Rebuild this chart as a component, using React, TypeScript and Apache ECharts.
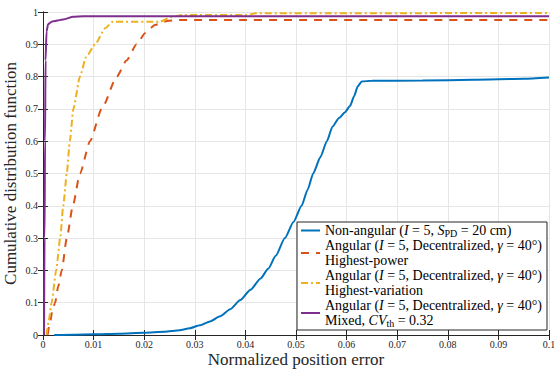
import React, { useEffect, useRef } from 'react';
import * as echarts from 'echarts';

// ---- data ----
const xTicks = [0, 0.01, 0.02, 0.03, 0.04, 0.05, 0.06, 0.07, 0.08, 0.09, 0.1];
const yTicks = [0, 0.1, 0.2, 0.3, 0.4, 0.5, 0.6, 0.7, 0.8, 0.9, 1];

const nonAngular: [number, number][] = [
  [0.0022, 0], [0.006, 0.001], [0.01, 0.002], [0.015, 0.004], [0.02, 0.007],
  [0.024, 0.01], [0.027, 0.015], [0.029, 0.021], [0.031, 0.03], [0.033, 0.042],
  [0.035, 0.058], [0.037, 0.08], [0.039, 0.108], [0.041, 0.14], [0.043, 0.175],
  [0.0445, 0.205], [0.046, 0.245], [0.0478, 0.3], [0.0495, 0.35], [0.0511, 0.4],
  [0.0523, 0.45], [0.0534, 0.5], [0.0548, 0.55], [0.0561, 0.6], [0.0572, 0.645],
  [0.0585, 0.672], [0.0597, 0.69], [0.0607, 0.71], [0.0615, 0.74], [0.0622, 0.77],
  [0.063, 0.785], [0.065, 0.787], [0.075, 0.788], [0.085, 0.79], [0.095, 0.793],
  [0.1, 0.797],
];

const highestPower: [number, number][] = [
  [0.0009, 0], [0.0014, 0.04], [0.0019, 0.08], [0.0024, 0.1], [0.003, 0.15],
  [0.0037, 0.2], [0.0047, 0.3], [0.0059, 0.4], [0.0073, 0.5], [0.0093, 0.6],
  [0.0116, 0.7], [0.0146, 0.8], [0.0165, 0.85], [0.0185, 0.9], [0.0202, 0.935],
  [0.0221, 0.96], [0.0245, 0.972], [0.0267, 0.975], [0.1, 0.975],
];

const highestVariation: [number, number][] = [
  [0.0007, 0], [0.0012, 0.05], [0.0017, 0.1], [0.0026, 0.2], [0.0034, 0.3],
  [0.004, 0.4], [0.0047, 0.5], [0.0053, 0.6], [0.006, 0.7], [0.0073, 0.8],
  [0.0085, 0.86], [0.0103, 0.9], [0.0123, 0.95], [0.0138, 0.97], [0.0231, 0.97],
  [0.0255, 0.985], [0.0277, 0.991], [0.0403, 0.991], [0.042, 0.996], [0.1, 0.997],
];

const mixed: [number, number][] = [
  [0.0002, 0], [0.0003, 0.3], [0.0004, 0.6], [0.0005, 0.85], [0.0007, 0.94],
  [0.001, 0.962], [0.0017, 0.97], [0.004, 0.977], [0.006, 0.985], [0.008, 0.987],
  [0.1, 0.987],
];

const seriesNames = ['Non-angular', 'Highest-power', 'Highest-variation', 'Mixed'];
const legendLabels: Record<string, string> = {
  'Non-angular': '{n|Non-angular (}{i|I}{n| = 5, }{i|S}{s|PD}{n| = 20 cm)}',
  'Highest-power': '{n|Angular (}{i|I}{n| = 5, Decentralized, }{i|γ}{n| = 40°)}\n{n|Highest-power}',
  'Highest-variation': '{n|Angular (}{i|I}{n| = 5, Decentralized, }{i|γ}{n| = 40°)}\n{n|Highest-variation}',
  'Mixed': '{n|Angular (}{i|I}{n| = 5, Decentralized, }{i|γ}{n| = 40°)}\n{n|Mixed, }{i|CV}{s|th}{n| = 0.32}',
};

const FONT = "'Liberation Serif', 'DejaVu Serif', serif";
const AXIS = '#262626';

export default function App() {
  const ref = useRef<HTMLDivElement>(null);
  useEffect(() => {
    if (!ref.current) return;
    const chart = echarts.init(ref.current, undefined, { renderer: 'svg' });
    const tickStyle = { fontFamily: FONT, fontSize: 10, color: AXIS };
    const mkLine = (name: string, data: [number, number][], color: string, type: any) => ({
      name,
      type: 'line',
      data,
      symbol: 'none',
      smooth: 0.2,
      smoothMonotone: 'x',
      clip: true,
      lineStyle: { color, width: 2, type },
      itemStyle: { color },
    });
    chart.setOption({
      animation: false,
      backgroundColor: '#fff',
      textStyle: { fontFamily: FONT },
      grid: { left: 43, right: 5, top: 12, bottom: 34, containLabel: false, outerBoundsMode: 'none' },
      xAxis: [
        {
          type: 'value', min: 0, max: 0.1, interval: 0.01, position: 'bottom',
          name: 'Normalized position error', nameLocation: 'middle', nameGap: 16,
          nameMoveOverlap: false,
          nameTextStyle: { fontFamily: FONT, fontSize: 17, color: AXIS },
          axisLine: { lineStyle: { color: AXIS, width: 1 } },
          axisTick: { inside: true, length: 5, lineStyle: { color: AXIS } },
          axisLabel: { ...tickStyle, margin: 4, formatter: (v: number) => String(xTicks.find((t) => Math.abs(t - v) < 1e-9) ?? v) },
          splitLine: { show: true, lineStyle: { color: '#e6e6e6', width: 1 } },
        },
        {
          type: 'value', min: 0, max: 0.1, interval: 0.01, position: 'top',
          axisLine: { show: true, lineStyle: { color: AXIS, width: 1 } },
          axisTick: { show: true, inside: true, length: 5, lineStyle: { color: AXIS } },
          axisLabel: { show: false }, splitLine: { show: false },
        },
      ],
      yAxis: [
        {
          type: 'value', min: 0, max: 1, interval: 0.1, position: 'left',
          name: 'Cumulative distribution function', nameLocation: 'middle', nameGap: 24,
          nameRotate: 90, nameMoveOverlap: false,
          nameTextStyle: { fontFamily: FONT, fontSize: 17, color: AXIS },
          axisLine: { show: true, lineStyle: { color: AXIS, width: 1 } },
          axisTick: { show: true, inside: true, length: 5, lineStyle: { color: AXIS } },
          axisLabel: { ...tickStyle, margin: 5, formatter: (v: number) => String(yTicks.find((t) => Math.abs(t - v) < 1e-9) ?? v) },
          splitLine: { show: true, lineStyle: { color: '#e6e6e6', width: 1 } },
        },
        {
          type: 'value', min: 0, max: 1, interval: 0.1, position: 'right',
          axisLine: { show: true, lineStyle: { color: AXIS, width: 1 } },
          axisTick: { show: true, inside: true, length: 5, lineStyle: { color: AXIS } },
          axisLabel: { show: false }, splitLine: { show: false },
        },
      ],
      legend: {
        orient: 'vertical',
        left: 297,
        top: 222,
        data: seriesNames,
        selectedMode: false,
        itemWidth: 19,
        itemHeight: 14,
        itemGap: 0,
        padding: [1, 5, 2, 3],
        backgroundColor: '#fff',
        borderColor: AXIS,
        borderWidth: 1,
        borderRadius: 0,
        itemStyle: { opacity: 0, borderWidth: 0 },
        lineStyle: { width: 2 },
        formatter: (name: string) => legendLabels[name],
        textStyle: {
          fontFamily: FONT, fontSize: 14, lineHeight: 15, color: '#000',
          rich: {
            n: { fontFamily: FONT, fontSize: 14, lineHeight: 15, color: '#000' },
            i: { fontFamily: FONT, fontSize: 14, lineHeight: 15, fontStyle: 'italic', color: '#000' },
            s: { fontFamily: FONT, fontSize: 10, lineHeight: 10, verticalAlign: 'bottom', color: '#000' },
          },
        },
      },
      series: [
        mkLine('Non-angular', nonAngular, '#0072BD', 'solid'),
        mkLine('Highest-power', highestPower, '#D95319', [8, 7]),
        mkLine('Highest-variation', highestVariation, '#EDB120', [7, 3, 2, 3]),
        mkLine('Mixed', mixed, '#7E2F8E', 'solid'),
      ],
    });
    return () => chart.dispose();
  }, []);
  return <div ref={ref} style={{ width: 554, height: 369, position: 'absolute', left: 0, top: 0 }} />;
}
